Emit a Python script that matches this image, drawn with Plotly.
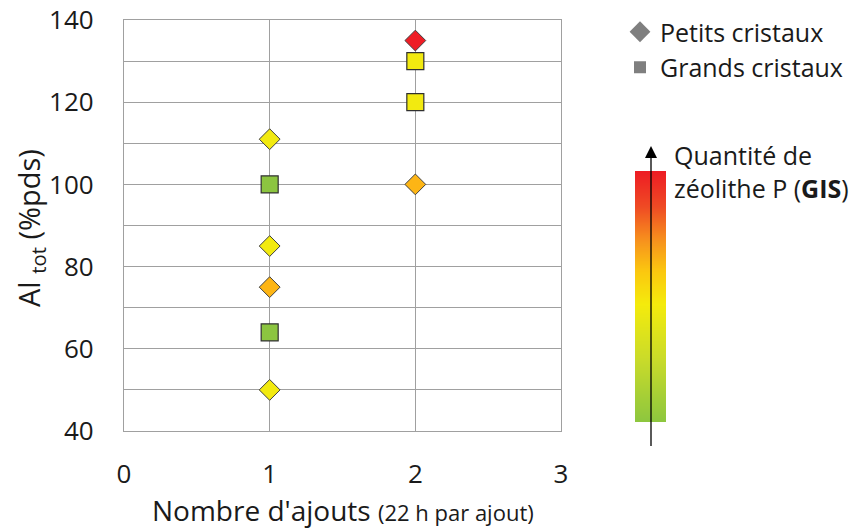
import plotly.graph_objects as go

# Data
petits_x = [1, 1, 1, 1, 2, 2]
petits_y = [111, 85, 75, 50, 135, 100]
petits_colors = ["#F2EA10", "#F2EA10", "#FDB515", "#F2EA10", "#EE1D25", "#FDB515"]

grands_x = [1, 1, 2, 2]
grands_y = [100, 64, 130, 120]
grands_colors = ["#8CC540", "#8CC540", "#F2EA10", "#F2EA10"]

legend_names = ["Petits cristaux", "Grands cristaux"]
x_ticks = [0, 1, 2, 3]
y_ticks = [40, 60, 80, 100, 120, 140]

gradient_scale = [[0, "#8CC63F"], [0.25, "#C9DB2A"], [0.47, "#F4EB0C"],
                  [0.6, "#FBC80F"], [0.72, "#F7941D"], [0.86, "#EF4A24"], [1, "#ED1C24"]]

FONT = "Open Sans"
W, H = 858, 531
ML, MT = 124, 20
PH = 411
PLOT_W = 437
MR = 0
MB = H - MT - PH
PAPER_W = W - ML - MR

def px_x(x):  # screen px -> paper
    return (x - ML) / PAPER_W

def px_y(y):
    return (MT + PH - y) / PH

fig = go.Figure()

fig.add_trace(go.Scatter(
    x=petits_x, y=petits_y, mode="markers", showlegend=False,
    marker=dict(symbol="diamond", size=16, color=petits_colors,
                line=dict(color="#404040", width=1)),
    cliponaxis=False,
))
fig.add_trace(go.Scatter(
    x=grands_x, y=grands_y, mode="markers", showlegend=False,
    marker=dict(symbol="square", size=17, color=grands_colors,
                line=dict(color="#303030", width=1.2)),
    cliponaxis=False,
))
# legend entries (gray symbols)
fig.add_trace(go.Scatter(x=[None], y=[None], mode="markers", name=legend_names[0],
                         marker=dict(symbol="diamond", size=16, color="#7F7F7F")))
fig.add_trace(go.Scatter(x=[None], y=[None], mode="markers", name=legend_names[1],
                         marker=dict(symbol="square", size=12, color="#7F7F7F")))

# gradient bar
fig.add_trace(go.Heatmap(
    x=[0, 1], y=[0, 1], z=[[0, 0], [1, 1]], zmin=0, zmax=1, zsmooth="best",
    colorscale=gradient_scale, showscale=False, hoverinfo="skip",
    xaxis="x2", yaxis="y2",
))

grid = "#A0A0A0"
ax_x = px_x(651)
tip_y = px_y(146)
base_y = px_y(158)
hw = 6 / PAPER_W
fig.update_layout(
    width=W, height=H,
    margin=dict(l=ML, r=MR, t=MT, b=MB, autoexpand=False),
    paper_bgcolor="white", plot_bgcolor="white",
    font=dict(family=FONT, color="#1a1a1a"),
    xaxis=dict(domain=[0, PLOT_W / PAPER_W], range=[0, 3], tickvals=x_ticks,
               showgrid=True, gridcolor=grid, gridwidth=1.3,
               showline=True, linecolor=grid, linewidth=1.3, mirror=True, zeroline=False,
               tickfont=dict(size=26), ticks="", ticklabelstandoff=20,
               ticklabeloverflow="allow"),
    yaxis=dict(range=[40, 140], tickvals=y_ticks, showgrid=True, gridcolor=grid, gridwidth=1.3,
               minor=dict(dtick=10, tick0=40, showgrid=True, gridcolor=grid, gridwidth=1.3),
               showline=True, linecolor=grid, linewidth=1.3, mirror=True, zeroline=False,
               tickfont=dict(size=26), ticks="", ticklabelstandoff=24,
               ticklabeloverflow="allow"),
    xaxis2=dict(domain=[px_x(635), px_x(666)], range=[0, 1], visible=False, anchor="y2"),
    yaxis2=dict(domain=[px_y(422), px_y(171)], range=[0, 1], visible=False, anchor="x2"),
    legend=dict(x=px_x(620), y=px_y(9), xanchor="left", yanchor="top",
                font=dict(size=25), itemwidth=30, tracegroupgap=0,
                bgcolor="rgba(0,0,0,0)"),
    shapes=[
        dict(type="line", xref="paper", yref="paper", x0=ax_x, x1=ax_x,
             y0=px_y(446), y1=base_y, line=dict(color="#000000", width=1.3), layer="above"),
        dict(type="path", xref="paper", yref="paper",
             path=f"M {ax_x},{tip_y} L {ax_x - hw},{base_y} L {ax_x + hw},{base_y} Z",
             fillcolor="#000000", line=dict(width=0), layer="above"),
    ],
    annotations=[
        dict(xref="paper", yref="paper", x=px_x(672), y=px_y(136), xanchor="left", yanchor="top",
             align="left", showarrow=False, font=dict(size=25),
             text="Quantité de<br>zéolithe P (<b>GIS</b>)"),
        dict(xref="paper", yref="paper", x=px_x(342.5), y=px_y(510), xanchor="center",
             yanchor="middle", showarrow=False, font=dict(size=28),
             text="Nombre d'ajouts <span style='font-size:22px'>(22 h par ajout)</span>"),
        dict(xref="paper", yref="paper", x=px_x(30), y=px_y(228), xanchor="center",
             yanchor="middle", textangle=-90, showarrow=False, font=dict(size=29),
             text="Al <sub>tot</sub> (%pds)"),
    ],
)

fig.write_html("out.html", config={"displayModeBar": False},
               post_script="document.body.style.margin='0';")
